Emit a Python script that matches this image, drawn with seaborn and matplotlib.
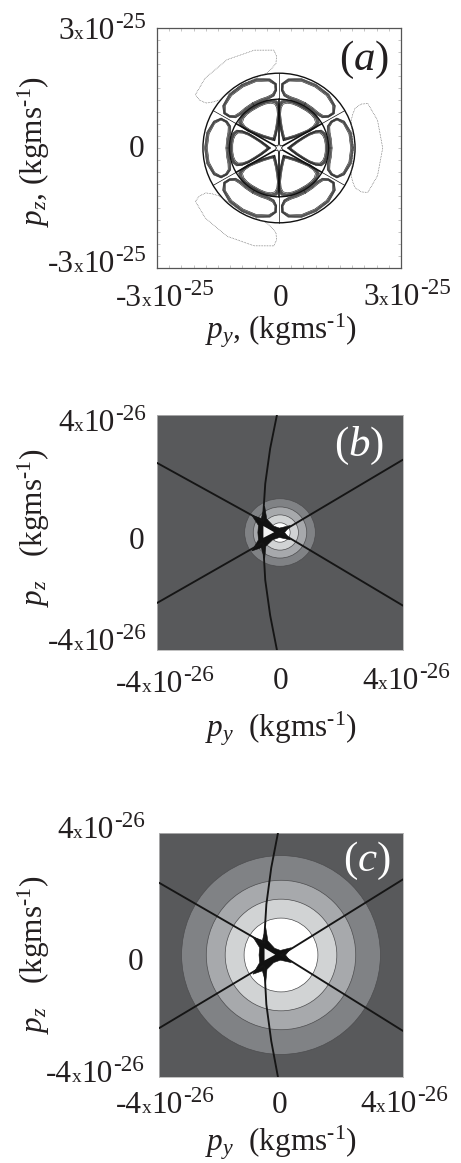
import numpy as np
import pandas as pd
import matplotlib
matplotlib.use("Agg")
import matplotlib.pyplot as plt
from matplotlib.patches import Circle, Polygon
from matplotlib.ticker import MultipleLocator
import seaborn as sns

sns.set_theme(style="white")
plt.rcParams.update({
    "font.family": ["Liberation Serif", "DejaVu Serif"],
    "mathtext.fontset": "custom",
    "mathtext.rm": "Liberation Serif",
    "mathtext.it": "Liberation Serif:italic",
    "mathtext.bf": "Liberation Serif:bold",
})

W, H = 461, 1163

# ---------- panel (a): momentum-space contours, units of 1e-25 ----------
inner_r = [0.25, 0.32, 0.45, 0.60, 0.75, 0.90, 1.02, 1.10, 1.15, 1.17, 1.17]
inner_perp = [0.00, 0.07, 0.19, 0.31, 0.42, 0.49, 0.50, 0.42, 0.28, 0.12, 0.00]
inner_lobe_angles = [0, 60, 120, 180, 240, 300]
inner_lobe_width = [0.82, 1.0, 1.0, 0.82, 1.0, 1.0]
inner_scales = [0.92, 0.97, 1.00, 1.03, 1.06, 1.09]

outer_r = [1.27, 1.27, 1.28, 1.33, 1.45, 1.60, 1.72, 1.79, 1.80]
outer_theta = [0, 10, 18, 24, 27, 27, 22, 12, 0]
outer_lobe_angles = [0, 60, 120, 180, 240, 300]
outer_scales = [0.86, 0.94, 1.00, 1.06, 1.12]

far_r = [1.83, 1.85, 1.90, 2.00, 2.12, 2.30, 2.45, 2.52, 2.55]
far_theta = [0, 14, 21, 25, 28, 28.5, 27, 16, 0]
far_lobe_angles = [0, 120, 240]

ring_radii = [1.22, 1.87]
spoke_angles = [30, 90, 150, 210, 270, 330]
spoke_start, spoke_knee, spoke_end = 0.13, 1.22, 1.87
star_r = [0.13, 0.06, 0.13, 0.06, 0.13, 0.06, 0.13, 0.06, 0.13, 0.06, 0.13, 0.06]
star_theta = [30, 60, 90, 120, 150, 180, 210, 240, 270, 300, 330, 360]

# ---------- panels (b), (c): separatrix, units of 1e-26 ----------
top_x = [-0.10, -0.32, -0.48, -0.54, -0.54]
top_y = [4.00, 2.86, 1.66, 0.68, 0.40]
bottom_x = [-0.10, -0.32, -0.48, -0.54, -0.54]
bottom_y = [-4.00, -2.82, -1.62, -0.52, -0.40]
upleft_x, upleft_y = [-4.00, -0.59], [2.37, 0.40]
lowleft_x, lowleft_y = [-4.00, -0.59], [-2.40, -0.36]
upright_x, upright_y = [4.00, 0.01], [2.48, 0.00]
lowright_x, lowright_y = [4.00, 0.01], [-2.49, 0.00]
star_x = [-0.50, -0.43, -0.21, -0.02, 0.34, 0.15, 0.34, -0.02, -0.24, -0.46,
          -0.50, -0.61, -0.92, -0.70, -0.72, -0.70, -0.92, -0.61]
star_y = [0.90, 0.46, 0.22, 0.15, 0.24, 0.00, -0.25, -0.17, -0.25, -0.47,
          -0.91, -0.52, -0.63, -0.25, 0.00, 0.24, 0.59, 0.48]
hole_x = [-0.54, -0.54, -0.19]
hole_y = [0.22, -0.18, 0.01]

disc_grays = ["#808285", "#a7a9ac", "#d1d3d4", "#ffffff"]
discs_b = [1.15, 0.87, 0.60, 0.33]
discs_c = [3.26, 2.45, 1.83, 1.21]
bg_gray = "#58595b"


def px_axes(fig, l, t, r, b):
    return fig.add_axes([l / W, 1 - b / H, (r - l) / W, (b - t) / H])


def lobe_frame(alpha, xs, ys):
    a = np.deg2rad(alpha)
    return (np.cos(a) * xs - np.sin(a) * ys, np.sin(a) * xs + np.cos(a) * ys)


def build_panel_a():
    rows = []
    uid = 0
    rr, pp = np.array(inner_r), np.array(inner_perp)
    loop_x = np.r_[rr, rr[-2::-1]]
    loop_y = np.r_[pp, -pp[-2::-1]]
    for ang, wd in zip(inner_lobe_angles, inner_lobe_width):
        for s in inner_scales:
            xs = 0.75 + (loop_x - 0.75) * s
            ys = loop_y * s * wd
            X, Y = lobe_frame(ang, xs, ys)
            rows.append(pd.DataFrame({"x": X, "y": Y, "curve": uid}))
            uid += 1
    rr, tt = np.array(outer_r), np.array(outer_theta, float)
    loop_r = np.r_[rr, rr[-2::-1]]
    loop_t = np.r_[tt, -tt[-2::-1]]
    for ang in outer_lobe_angles:
        for s in outer_scales:
            R = 1.53 + (loop_r - 1.53) * s
            T = np.deg2rad(ang + loop_t * (1 + (s - 1) * 0.25))
            rows.append(pd.DataFrame({"x": R * np.cos(T), "y": R * np.sin(T), "curve": uid}))
            uid += 1
    return pd.concat(rows, ignore_index=True)


def build_far():
    rows = []
    rr, tt = np.array(far_r), np.array(far_theta)
    loop_r = np.r_[rr, rr[-2::-1]]
    loop_t = np.r_[tt, -tt[-2::-1]]
    for i, ang in enumerate(far_lobe_angles):
        T = np.deg2rad(ang + loop_t)
        rows.append(pd.DataFrame({"x": loop_r * np.cos(T), "y": loop_r * np.sin(T), "curve": i}))
    return pd.concat(rows, ignore_index=True)


def compound_label(fig, left, base, lead, exponent, size=22.5):
    """Tick label built from pieces: digit, small x, 10, raised exponent."""
    renderer = fig.canvas.get_renderer()
    x = left
    for txt, fs, dy in [(lead, size, 0), ("x", size * 0.62, 0), ("10", size, 0), (exponent, size * 0.74, 11)]:
        t = fig.text(x / W, 1 - (base - dy) / H, txt, fontsize=fs, color="#231f20",
                     ha="left", va="baseline")
        adv, _, _ = renderer.get_text_width_height_descent(txt, t.get_fontproperties(), False)
        x += adv


def draw_separatrix(ax):
    ax.add_patch(Polygon(np.c_[star_x, star_y], closed=True, fc="#111111", ec="#111111", lw=0.4, zorder=4))
    curves = [(top_x, top_y), (bottom_x, bottom_y), (upleft_x, upleft_y),
              (lowleft_x, lowleft_y), (upright_x, upright_y), (lowright_x, lowright_y)]
    for cx, cy in curves:
        sns.lineplot(x=cx, y=cy, ax=ax, color="#151515", lw=1.35, sort=False,
                     estimator=None, zorder=4)
    ax.add_patch(Polygon(np.c_[hole_x, hole_y], closed=True, fc="#f2f2f2", ec="none", zorder=5))


def finish(ax, lim):
    ax.set_xlim(-lim, lim)
    ax.set_ylim(-lim, lim)
    ax.set_xlabel("")
    ax.set_ylabel("")


fig = plt.figure(figsize=(W / 100, H / 100), dpi=100, facecolor="white")
fig.canvas.draw()

# panel a
ax = px_axes(fig, 157, 28, 401, 268)
sns.lineplot(data=build_far(), x="x", y="y", units="curve", estimator=None, sort=False,
             ax=ax, color="#555555", lw=0.5, ls=(0, (1, 1.3)))
sns.lineplot(data=build_panel_a(), x="x", y="y", units="curve", estimator=None, sort=False,
             ax=ax, color="#111111", lw=0.4)
for r in ring_radii:
    ax.add_patch(Circle((0, 0), r, fill=False, ec="#111111", lw=1.0))
for ang in spoke_angles:
    a = np.deg2rad(ang)
    ax.plot([spoke_start * np.cos(a), spoke_knee * np.cos(a)],
            [spoke_start * np.sin(a), spoke_knee * np.sin(a)], color="#111111", lw=1.2)
    ax.plot([spoke_knee * np.cos(a), spoke_end * np.cos(a)],
            [spoke_knee * np.sin(a), spoke_end * np.sin(a)], color="#111111", lw=0.5)
st = np.deg2rad(star_theta)
sr = np.array(star_r)
ax.add_patch(Polygon(np.c_[sr * np.cos(st), sr * np.sin(st)], closed=True, fill=False, ec="#111111", lw=0.6))
finish(ax, 3)
ax.xaxis.set_major_locator(MultipleLocator(0.3))
ax.yaxis.set_major_locator(MultipleLocator(0.3))
ax.tick_params(direction="in", length=2, width=0.4, color="#999999", top=True, right=True,
               bottom=True, left=True, labelbottom=False, labelleft=False)
for s in ax.spines.values():
    s.set_color("#555555")
    s.set_linewidth(0.9)
ax.text(0.85, 0.825, r"($a$)", transform=ax.transAxes, fontsize=31, color="#231f20",
        ha="center", va="baseline")

# panels b and c
for box, radii, letter, lpos in [((157, 415, 403, 650), discs_b, r"($b$)", (0.82, 0.825)),
                                 ((159, 833, 403, 1077), discs_c, r"($c$)", (0.85, 0.845))]:
    ax = px_axes(fig, *box)
    ax.set_facecolor(bg_gray)
    for r, c in zip(radii, disc_grays):
        ax.add_patch(Circle((0, 0), r, fc=c, ec="#4d4d4f", lw=0.5, zorder=2))
    draw_separatrix(ax)
    finish(ax, 4)
    ax.set_xticks([])
    ax.set_yticks([])
    for s in ax.spines.values():
        s.set_color("#b5b5b5")
        s.set_linewidth(0.6)
    ax.text(lpos[0], lpos[1], letter, transform=ax.transAxes, fontsize=31, color="white",
            ha="center", va="baseline", zorder=6)

# tick labels
compound_label(fig, 58, 39, "3", "-25")
compound_label(fig, 48, 272, "-3", "-25")
compound_label(fig, 116, 306, "-3", "-25")
compound_label(fig, 363, 305, "3", "-25")
compound_label(fig, 58, 431, "4", "-26")
compound_label(fig, 48, 650, "-4", "-26")
compound_label(fig, 116, 692, "-4", "-26")
compound_label(fig, 362, 689, "4", "-26")
compound_label(fig, 57, 838, "4", "-26")
compound_label(fig, 46, 1082, "-4", "-26")
compound_label(fig, 116, 1113, "-4", "-26")
compound_label(fig, 360, 1112, "4", "-26")
for px, py in [(129, 157), (273, 306), (129, 549), (273, 689), (128, 970), (272, 1113)]:
    fig.text(px / W, 1 - py / H, "0", fontsize=22.5, color="#231f20", ha="left", va="baseline")

# axis labels
for xtxt, ytxt, xy, yy in [
    (r"$p_y$, (kgms$^{\text{-}1}$)", r"$p_z$, (kgms$^{\text{-}1}$)", (281, 338), (43, 152)),
    (r"$p_y$  (kgms$^{\text{-}1}$)", r"$p_z$   (kgms$^{\text{-}1}$)", (281, 737), (43, 528)),
    (r"$p_y$  (kgms$^{\text{-}1}$)", r"$p_z$   (kgms$^{\text{-}1}$)", (281, 1151), (43, 955)),
]:
    fig.text(xy[0] / W, 1 - xy[1] / H, xtxt, fontsize=22.5, color="#231f20", ha="center", va="baseline")
    fig.text(yy[0] / W, 1 - yy[1] / H, ytxt, fontsize=22.5, color="#231f20", rotation=90,
             rotation_mode="anchor", ha="center", va="baseline")

fig.savefig("out.png", dpi=100, facecolor="white")
